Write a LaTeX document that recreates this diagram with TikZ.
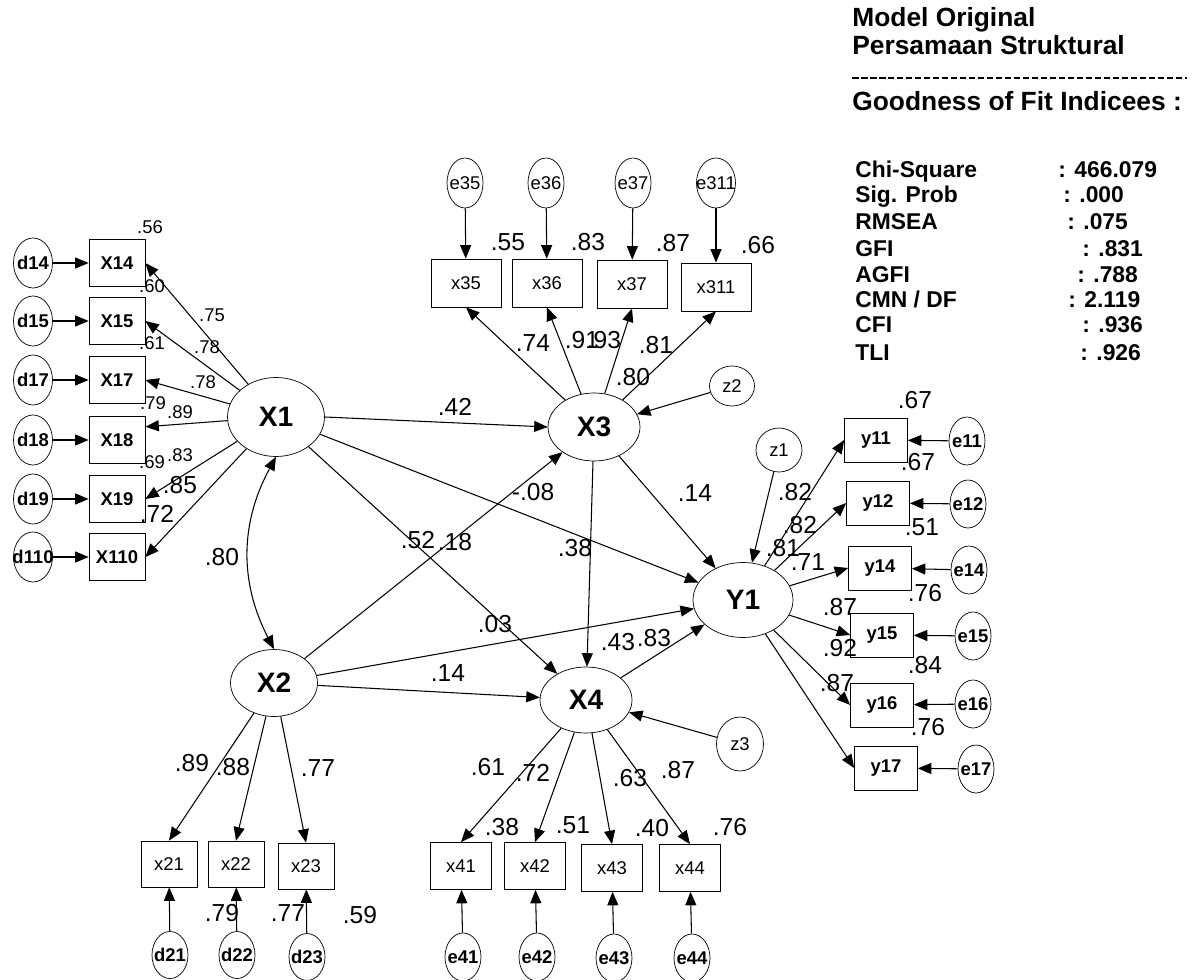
\documentclass[tikz,border=0pt]{standalone}
\usepackage{fontspec}
\setmainfont{Liberation Sans}
\usetikzlibrary{arrows.meta,shapes.geometric,positioning}
\newcommand\zbox[1]{\makebox[0pt]{#1}}

\begin{document}
\begin{tikzpicture}[
    x=0.02cm, y=-0.02cm,
    lat/.style={draw, ellipse, inner sep=0pt, font=\fontsize{16}{16}\selectfont\bfseries},
    obs/.style={draw, inner sep=0pt, minimum width=1.12cm, minimum height=0.94cm, font=\fontsize{10.5}{12}\selectfont},
    obsb/.style={obs, font=\fontsize{10.5}{12}\selectfont\bfseries},
    err/.style={draw, ellipse, inner sep=0pt, minimum width=0.72cm, minimum height=0.96cm, font=\fontsize{10.5}{12}\selectfont},
    errb/.style={err, font=\fontsize{10.5}{12}\selectfont\bfseries},
    dis/.style={draw, ellipse, inner sep=0pt, minimum width=0.92cm, minimum height=0.86cm, font=\fontsize{10.5}{12}\selectfont},
    arr/.style={-{Triangle[length=0.27cm, width=0.22cm]}, line width=0.6pt},
    arr2/.style={{Triangle[length=0.27cm, width=0.22cm]}-{Triangle[length=0.27cm, width=0.22cm]}, line width=0.6pt},
    lbl/.style={font=\fontsize{14}{14}\selectfont, inner sep=0pt},
    slbl/.style={font=\fontsize{10.5}{12}\selectfont, inner sep=0pt},
    ttl/.style={font=\fontsize{15}{15}\selectfont\bfseries, anchor=base west, inner sep=0pt},
    fit/.style={font=\fontsize{13}{13}\selectfont\bfseries, anchor=base west, inner sep=0pt}
]
\useasboundingbox (0,0) rectangle (1198,980);

% latent variables
\node[lat, minimum width=1.94cm, minimum height=1.58cm] (X1) at (276,417) {X1};
\node[lat, minimum width=1.74cm, minimum height=1.34cm] (X2) at (274,683) {X2};
\node[lat, minimum width=1.84cm, minimum height=1.36cm] (X3) at (594,427) {X3};
\node[lat, minimum width=1.84cm, minimum height=1.32cm] (X4) at (586,700) {X4};
\node[lat, minimum width=2.0cm, minimum height=1.5cm] (Y1) at (743,600) {Y1};

% X1 indicators
\node[obsb] (X14) at (117,263) {X14};
\node[obsb] (X15) at (117,321) {X15};
\node[obsb] (X17) at (117,380) {X17};
\node[obsb] (X18) at (117,440) {X18};
\node[obsb] (X19) at (117,499) {X19};
\node[obsb] (X110) at (117,557) {X110};
\node[errb, minimum width=0.78cm, minimum height=1.0cm] (d14) at (33,263) {\zbox{d14}};
\node[errb, minimum width=0.78cm, minimum height=1.0cm] (d15) at (33,321) {\zbox{d15}};
\node[errb, minimum width=0.78cm, minimum height=1.0cm] (d17) at (33,380) {\zbox{d17}};
\node[errb, minimum width=0.78cm, minimum height=1.0cm] (d18) at (33,440) {\zbox{d18}};
\node[errb, minimum width=0.78cm, minimum height=1.0cm] (d19) at (33,499) {\zbox{d19}};
\node[errb, minimum width=0.78cm, minimum height=1.0cm] (d110) at (33,557) {\zbox{d110}};

% X3 indicators
\node[obs, minimum width=1.4cm, minimum height=0.96cm] (x35) at (466,283) {x35};
\node[obs, minimum width=1.4cm, minimum height=0.96cm] (x36) at (547,283) {x36};
\node[obs, minimum width=1.4cm, minimum height=0.96cm] (x37) at (632,284) {x37};
\node[obs, minimum width=1.4cm, minimum height=0.96cm] (x311) at (716,287) {x311};
\node[err, minimum height=1.0cm] (e35) at (465,183) {\zbox{e35}};
\node[err, minimum height=1.0cm] (e36) at (546,183) {\zbox{e36}};
\node[err, minimum height=1.0cm] (e37) at (633,183) {\zbox{e37}};
\node[err, minimum width=0.78cm, minimum height=1.0cm] (e311) at (716,183) {\zbox{e311}};

% Y1 indicators
\node[obsb, minimum width=1.26cm, minimum height=0.88cm] (y11) at (876,440) {y11};
\node[obsb, minimum width=1.26cm, minimum height=0.88cm] (y12) at (878,503) {y12};
\node[obsb, minimum width=1.26cm, minimum height=0.88cm] (y14) at (880,568) {y14};
\node[obsb, minimum width=1.26cm, minimum height=0.88cm] (y15) at (882,635) {y15};
\node[obsb, minimum width=1.26cm, minimum height=0.88cm] (y16) at (882,705) {y16};
\node[obsb, minimum width=1.26cm, minimum height=0.88cm] (y17) at (886,768) {y17};
\node[errb] (e11) at (967,441) {\zbox{e11}};
\node[errb] (e12) at (968,504) {\zbox{e12}};
\node[errb] (e14) at (969,570) {\zbox{e14}};
\node[errb] (e15) at (973,636) {\zbox{e15}};
\node[errb] (e16) at (973,704) {\zbox{e16}};
\node[errb] (e17) at (976,769) {\zbox{e17}};

% X2 indicators
\node[obs, minimum height=0.92cm] (x21) at (169,864) {x21};
\node[obs, minimum height=0.92cm] (x22) at (236,864) {x22};
\node[obs, minimum height=0.92cm] (x23) at (306,866) {x23};
\node[errb, minimum height=0.94cm] (d21) at (170,955) {\zbox{d21}};
\node[errb, minimum height=0.94cm] (d22) at (237,955) {\zbox{d22}};
\node[errb, minimum height=0.94cm] (d23) at (307,957) {\zbox{d23}};

% X4 indicators
\node[obs, minimum width=1.22cm] (x41) at (461,866) {x41};
\node[obs, minimum width=1.22cm] (x42) at (535,866) {x42};
\node[obs, minimum width=1.22cm] (x43) at (612,868) {x43};
\node[obs, minimum width=1.22cm] (x44) at (690,868) {x44};
\node[errb] (e41) at (463,957) {\zbox{e41}};
\node[errb] (e42) at (537,957) {\zbox{e42}};
\node[errb] (e43) at (614,958) {\zbox{e43}};
\node[errb] (e44) at (692,958) {\zbox{e44}};

% disturbances
\node[dis, minimum height=0.88cm] (z1) at (779,450) {z1};
\node[dis, minimum width=0.9cm, minimum height=0.8cm] (z2) at (732,386) {z2};
\node[dis, minimum width=0.94cm, minimum height=1.08cm] (z3) at (740,744) {z3};

% measurement arrows
\draw[arr] (X1) -- (X14.east);
\draw[arr] (X1) -- (X15.east);
\draw[arr] (X1) -- (X17.east);
\draw[arr] (X1) -- (X18.25);
\draw[arr] (X1) -- (X19.east);
\draw[arr] (X1) -- (X110.east);
\draw[arr] (d14) -- (X14);
\draw[arr] (d15) -- (X15);
\draw[arr] (d17) -- (X17);
\draw[arr] (d18) -- (X18);
\draw[arr] (d19) -- (X19);
\draw[arr] (d110) -- (X110);

\draw[arr] (X3) -- (x35.south);
\draw[arr] (X3) -- (x36.south);
\draw[arr] (X3) -- (x37.south);
\draw[arr] (X3) -- (x311.south);
\draw[arr] (e35) -- (x35);
\draw[arr] (e36) -- (x36);
\draw[arr] (e37) -- (x37);
\draw[arr] (e311) -- (x311);

\draw[arr] (Y1) -- (y11.west);
\draw[arr] (Y1) -- (y12.west);
\draw[arr] (Y1) -- (y14.west);
\draw[arr] (Y1) -- (y15.west);
\draw[arr] (Y1) -- (y16.west);
\draw[arr] (Y1) -- (y17.west);
\draw[arr] (e11) -- (y11);
\draw[arr] (e12) -- (y12);
\draw[arr] (e14) -- (y14);
\draw[arr] (e15) -- (y15);
\draw[arr] (e16) -- (y16);
\draw[arr] (e17) -- (y17);

\draw[arr] (X2) -- (x21.north);
\draw[arr] (X2) -- (x22.north);
\draw[arr] (X2) -- (x23.north);
\draw[arr] (d21) -- (x21);
\draw[arr] (d22) -- (x22);
\draw[arr] (d23) -- (x23);

\draw[arr] (X4) -- (x41.north);
\draw[arr] (X4) -- (x42.north);
\draw[arr] (X4) -- (x43.north);
\draw[arr] (X4) -- (x44.north);
\draw[arr] (e41) -- (x41);
\draw[arr] (e42) -- (x42);
\draw[arr] (e43) -- (x43);
\draw[arr] (e44) -- (x44);

% structural arrows
\draw[arr2] (X1.south) to[bend right=28] (X2.north);
\draw[arr] (X1.east) -- (X3.west);
\draw[arr] (X1) -- (Y1);
\draw[arr] (X1) -- (X4);
\draw[arr] (X2) -- (X3);
\draw[arr] (X2) -- (Y1);
\draw[arr] (X2) -- (X4);
\draw[arr] (X3) -- (X4);
\draw[arr] (X3) -- (Y1);
\draw[arr] (X4) -- (Y1);
\draw[arr] (z1) -- (Y1);
\draw[arr] (z2) -- (X3);
\draw[arr] (z3) -- (X4);

% estimates, X1 block
\node[slbl] (r14) at (150,227) {.56};
\node[slbl] (r15) at (152,286) {.60};
\node[slbl] (r17) at (152,343) {.61};
\node[slbl] (r18) at (153,403) {.79};
\node[slbl] (r19) at (152,462) {.69};
\node[lbl] (r110) at (157,514) {.72};
\node[slbl] (l14) at (212,315) {.75};
\node[slbl] (l15) at (207,347) {.78};
\node[slbl] (l17) at (203,382) {.78};
\node[slbl] (l18) at (180,412) {.89};
\node[slbl] (l19) at (180,455) {.83};
\node[lbl] (l110) at (180,485) {.85};
\node[lbl] (c12) at (222,557) {.80};

% estimates, X3 block
\node[lbl] (r35) at (508,242) {.55};
\node[lbl] (r36) at (588,242) {.83};
\node[lbl] (r37) at (673,243) {.87};
\node[lbl] (r311) at (758,245) {.66};
\node[lbl] (l35) at (533,343) {.74};
\node[lbl] (l36) at (582,340) {.91};
\node[lbl] (l37) at (604,340) {.93};
\node[lbl] (l311) at (656,345) {.81};
\node[lbl] (l3z) at (633,377) {.80};

% estimates, structural
\node[lbl] (b13) at (455,407) {.42};
\node[lbl] (b1y) at (533,492) {-.08};
\node[lbl] (b14) at (418,540) {.52};
\node[lbl] (b23) at (455,542) {.18};
\node[lbl] (b34) at (575,548) {.38};
\node[lbl] (b3y) at (695,493) {.14};
\node[lbl] (b2y) at (495,624) {.03};
\node[lbl] (b24) at (448,673) {.14};
\node[lbl] (r4) at (618,642) {.43};
\node[lbl] (b4y) at (654,638) {.83};

% estimates, Y1 block
\node[lbl] (ry) at (795,492) {.82};
\node[lbl] (l11) at (800,525) {.82};
\node[lbl] (l12) at (783,548) {.81};
\node[lbl] (l14y) at (808,562) {.71};
\node[lbl] (l15y) at (840,607) {.87};
\node[lbl] (l16) at (840,648) {.92};
\node[lbl] (l17y) at (837,683) {.87};
\node[lbl] (r11) at (915,400) {.67};
\node[lbl] (r12) at (918,462) {.67};
\node[lbl] (r14y) at (922,527) {.51};
\node[lbl] (r15y) at (925,593) {.76};
\node[lbl] (r16) at (925,665) {.84};
\node[lbl] (r17y) at (928,727) {.76};

% estimates, X2 block
\node[lbl] (l21) at (192,763) {.89};
\node[lbl] (l22) at (233,767) {.88};
\node[lbl] (l23) at (318,768) {.77};
\node[lbl] (r21) at (222,913) {.79};
\node[lbl] (r22) at (288,913) {.77};
\node[lbl] (r23) at (360,915) {.59};

% estimates, X4 block
\node[lbl] (l41) at (488,767) {.61};
\node[lbl] (l42) at (533,773) {.72};
\node[lbl] (l43) at (630,778) {.63};
\node[lbl] (l44) at (678,770) {.87};
\node[lbl] (r41) at (502,827) {.38};
\node[lbl] (r42) at (573,825) {.51};
\node[lbl] (r43) at (652,828) {.40};
\node[lbl] (r44) at (730,827) {.76};

% fit summary
\node[ttl] (t1) at (852,27) {Model Original};
\node[ttl] (t2) at (852,55) {Persamaan Struktural};
\draw[line width=1.2pt, dash pattern=on 0.13cm off 0.05cm] (852,78) -- (1187,78);
\node[ttl] (t3) at (852,111) {Goodness of Fit Indicees :};
\node[fit] (k1) at (855,177) {Chi-Square};
\node[fit] (k2) at (855,203) {Sig. Prob};
\node[fit] (k3) at (855,230) {RMSEA};
\node[fit] (k4) at (855,256) {GFI};
\node[fit] (k5) at (855,282) {AGFI};
\node[fit] (k6) at (855,307) {CMN / DF};
\node[fit] (k7) at (855,333) {CFI};
\node[fit] (k8) at (855,360) {TLI};
\node[fit] (v1) at (1058,177) {: 466.079};
\node[fit] (v2) at (1063,203) {: .000};
\node[fit] (v3) at (1067,230) {: .075};
\node[fit] (v4) at (1082,256) {: .831};
\node[fit] (v5) at (1077,282) {: .788};
\node[fit] (v6) at (1068,307) {: 2.119};
\node[fit] (v7) at (1082,333) {: .936};
\node[fit] (v8) at (1080,360) {: .926};
\end{tikzpicture}
\end{document}
